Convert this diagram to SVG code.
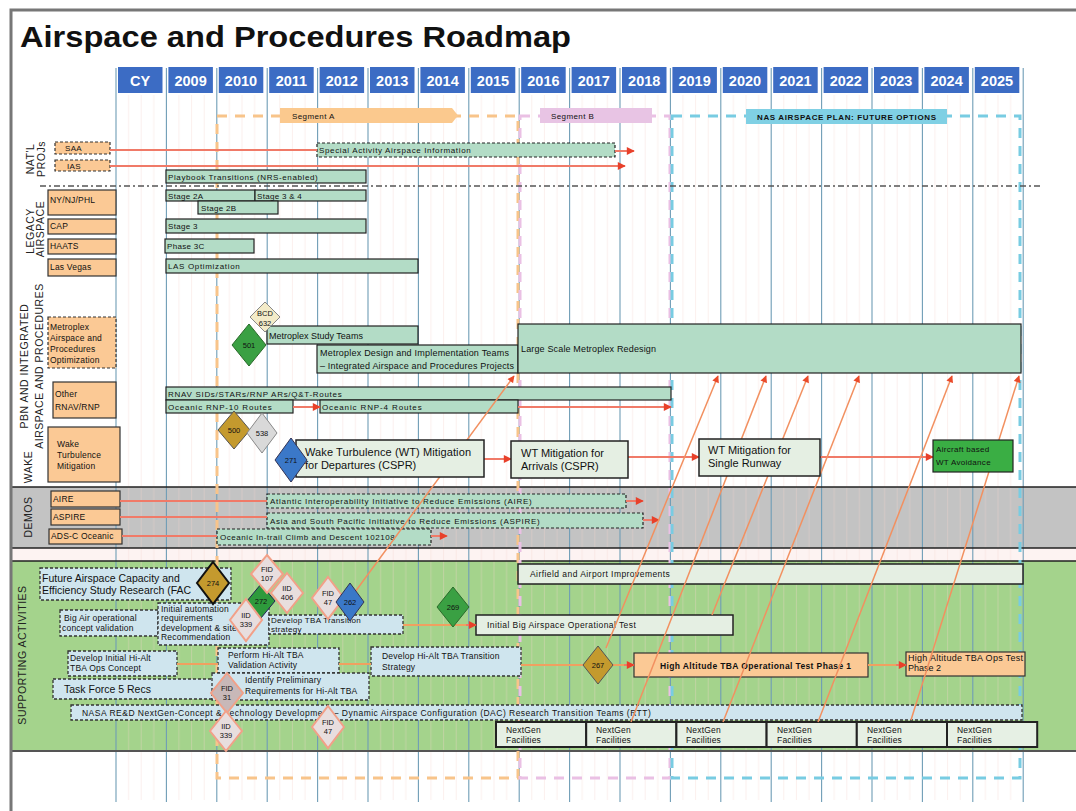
<svg xmlns="http://www.w3.org/2000/svg" width="1076" height="811" viewBox="0 0 1076 811">
<defs>
<style>
text { font-family: "Liberation Sans", Arial, sans-serif; fill:#111; }
.yr { font-size:14.5px; font-weight:bold; fill:#fff; text-anchor:middle }
.hd { fill:#3c6cc4 }
.grid { stroke:#6f9db6; stroke-width:1.1; fill:none }
.g { fill:#b3dcc6; stroke:#222; stroke-width:1.2 }
.gd { fill:#b3dcc6; stroke:#222; stroke-width:1.2; stroke-dasharray:3 2 }
.lt { fill:#e5efe3; stroke:#222; stroke-width:1.5 }
.o { fill:#fbc995; stroke:#333; stroke-width:1.2 }
.od { fill:#fbc995; stroke:#333; stroke-width:1.2; stroke-dasharray:3 2 }
.bd { fill:#cfe5ee; stroke:#333; stroke-width:1.3; stroke-dasharray:3 2 }
.ng { fill:#e6f0e4; stroke:#222; stroke-width:2 }
.s8 { font-size:8px; letter-spacing:0.3px }
.s85 { font-size:8.5px; letter-spacing:0.2px }
.s9 { font-size:9px }
.s10 { font-size:10.5px }
.s11 { font-size:11px }
.sec { font-size:10.5px; text-anchor:middle; letter-spacing:0.5px; fill:#222 }
.dt { font-size:7.5px; text-anchor:middle }
.ln { stroke:#f07a68; stroke-width:2; fill:none }
.ar { stroke:#f07a68; stroke-width:2; fill:none; marker-end:url(#ah) }
.oa { stroke:#f0a060; stroke-width:2; fill:none }
.dg { stroke:#f29060; stroke-width:1.5; fill:none; marker-end:url(#ah2) }
.fid { fill:#e8dede; stroke:#f2a088; stroke-width:2 }
.seg { fill:none; stroke-width:3; stroke-dasharray:10 8 }
</style>
<marker id="ah" viewBox="0 0 10 10" refX="9" refY="5" markerWidth="10" markerHeight="8" markerUnits="userSpaceOnUse" orient="auto"><path d="M0,0 L10,5 L0,10 z" fill="#e8402a"/></marker>
<marker id="ah2" viewBox="0 0 10 10" refX="9" refY="5" markerWidth="8" markerHeight="7" markerUnits="userSpaceOnUse" orient="auto"><path d="M0,0 L10,5 L0,10 z" fill="#ea4a2a"/></marker>
<pattern id="mo" x="116" y="0" width="50.4" height="10" patternUnits="userSpaceOnUse"><path d="M12.6,0V10M25.2,0V10M37.8,0V10" stroke="#f4d2cc" stroke-width="1"/></pattern>
</defs>

<rect x="0" y="0" width="1076" height="811" fill="#fff"/>

<!-- bands -->
<rect x="11" y="487" width="1065" height="61" fill="#c3c3c3"/>
<rect x="11" y="548" width="1065" height="13" fill="#fdf3f2"/>
<rect x="11" y="561" width="1065" height="190" fill="#a4d38c"/>
<rect x="116" y="95" width="907" height="705" fill="url(#mo)" opacity="0.35"/>
<path class="grid" d="M116,68V802M166.4,68V802M216.8,68V802M267.2,68V802M317.6,68V802M368,68V802M418.4,68V802M468.8,68V802M519.2,68V802M569.6,68V802M620,68V802M670.4,68V802M720.8,68V802M771.2,68V802M821.6,68V802M872,68V802M922.4,68V802M972.8,68V802M1023.2,68V802"/>
<path d="M11,487H1076M11,548H1076M11,561H1076" stroke="#222" stroke-width="1.3" fill="none"/>
<path d="M11,751H1076" stroke="#555" stroke-width="2" fill="none"/>

<!-- frame and title -->
<path d="M11,811V10H1076" stroke="#777" stroke-width="3" fill="none"/>
<text x="20" y="47" font-size="30" font-weight="bold" textLength="551" lengthAdjust="spacingAndGlyphs">Airspace and Procedures Roadmap</text>

<!-- header -->
<g id="header">
<rect class="hd" x="118" y="67" width="44.5" height="26"/><text class="yr" x="140.2" y="86">CY</text>
<rect class="hd" x="168.4" y="67" width="44.5" height="26"/><text class="yr" x="190.6" y="86">2009</text>
<rect class="hd" x="218.8" y="67" width="44.5" height="26"/><text class="yr" x="241" y="86">2010</text>
<rect class="hd" x="269.2" y="67" width="44.5" height="26"/><text class="yr" x="291.4" y="86">2011</text>
<rect class="hd" x="319.6" y="67" width="44.5" height="26"/><text class="yr" x="341.8" y="86">2012</text>
<rect class="hd" x="370" y="67" width="44.5" height="26"/><text class="yr" x="392.2" y="86">2013</text>
<rect class="hd" x="420.4" y="67" width="44.5" height="26"/><text class="yr" x="442.6" y="86">2014</text>
<rect class="hd" x="470.8" y="67" width="44.5" height="26"/><text class="yr" x="493" y="86">2015</text>
<rect class="hd" x="521.2" y="67" width="44.5" height="26"/><text class="yr" x="543.4" y="86">2016</text>
<rect class="hd" x="571.6" y="67" width="44.5" height="26"/><text class="yr" x="593.8" y="86">2017</text>
<rect class="hd" x="622" y="67" width="44.5" height="26"/><text class="yr" x="644.2" y="86">2018</text>
<rect class="hd" x="672.4" y="67" width="44.5" height="26"/><text class="yr" x="694.6" y="86">2019</text>
<rect class="hd" x="722.8" y="67" width="44.5" height="26"/><text class="yr" x="745" y="86">2020</text>
<rect class="hd" x="773.2" y="67" width="44.5" height="26"/><text class="yr" x="795.4" y="86">2021</text>
<rect class="hd" x="823.6" y="67" width="44.5" height="26"/><text class="yr" x="845.8" y="86">2022</text>
<rect class="hd" x="874" y="67" width="44.5" height="26"/><text class="yr" x="896.2" y="86">2023</text>
<rect class="hd" x="924.4" y="67" width="44.5" height="26"/><text class="yr" x="946.6" y="86">2024</text>
<rect class="hd" x="974.8" y="67" width="44.5" height="26"/><text class="yr" x="997" y="86">2025</text>
</g>

<!-- segments -->
<g id="segA">
<rect class="seg" x="217" y="116" width="301" height="662" stroke="#f8c48a"/>
<polygon points="280,108 452,108 458,115.5 452,123 280,123" fill="#fbc98e"/>
<text x="292" y="119" font-size="8" fill="#333" letter-spacing="0.4">Segment A</text>
</g>
<g id="segB">
<rect class="seg" x="520" y="116" width="150" height="662" stroke="#eac0e4"/>
<rect x="540" y="108" width="112" height="15" fill="#e8c4e4"/>
<text x="551" y="119" font-size="8" fill="#333" letter-spacing="0.4">Segment B</text>
</g>
<g id="segF">
<rect class="seg" x="672" y="116" width="348" height="662" stroke="#78cce2"/>
<rect x="746" y="109" width="201" height="15" fill="#80d0e4"/>
<text x="757" y="120" font-size="8" font-weight="bold" fill="#222" textLength="179" lengthAdjust="spacing">NAS AIRSPACE PLAN: FUTURE OPTIONS</text>
</g>

<path d="M40,186H1041" stroke="#555" stroke-width="1.5" stroke-dasharray="6 3 2 3" fill="none"/>

<!-- section labels -->
<g id="sections">
<text class="sec" transform="translate(34,159) rotate(-90)">NAT'L</text>
<text class="sec" transform="translate(45,159) rotate(-90)">PROJs</text>
<text class="sec" transform="translate(34,231) rotate(-90)">LEGACY</text>
<text class="sec" transform="translate(44,229) rotate(-90)">AIRSPACE</text>
<text class="sec" transform="translate(28,366) rotate(-90)">PBN AND INTEGRATED</text>
<text class="sec" transform="translate(43,366) rotate(-90)">AIRSPACE AND PROCEDURES</text>
<text class="sec" transform="translate(32,467) rotate(-90)">WAKE</text>
<text class="sec" transform="translate(32,517) rotate(-90)">DEMOS</text>
<text class="sec" transform="translate(26,655) rotate(-90)">SUPPORTING ACTIVITIES</text>
</g>

<!-- box nodes -->
<g id="n-saa"><rect class="od" x="55" y="142" width="55" height="12"/><text class="s8" x="65" y="151">SAA</text></g>
<g id="n-ias"><rect class="od" x="55" y="160" width="55" height="11"/><text class="s8" x="67" y="168.5">IAS</text></g>
<g id="n-special"><rect class="gd" x="317" y="143" width="298" height="14"/><text class="s8" x="319" y="153" textLength="152" lengthAdjust="spacing">Special Activity Airspace Information</text></g>
<g id="n-playbook"><rect class="g" x="166" y="170" width="200" height="13"/><text class="s8" x="168" y="180" textLength="150" lengthAdjust="spacing">Playbook Transitions (NRS-enabled)</text></g>

<g id="n-nynj"><rect class="o" x="48" y="190" width="68" height="25"/><text class="s85" x="50" y="203">NY/NJ/PHL</text></g>
<g id="n-stage2a"><rect class="g" x="166" y="190" width="89" height="11"/><text class="s8" x="168" y="199">Stage 2A</text></g>
<g id="n-stage34"><rect class="g" x="255" y="190" width="111" height="11"/><text class="s8" x="257" y="199">Stage 3 &amp; 4</text></g>
<g id="n-stage2b"><rect class="g" x="198" y="201" width="80" height="13"/><text class="s8" x="201" y="211">Stage 2B</text></g>
<g id="n-cap"><rect class="o" x="48" y="219" width="68" height="15"/><text class="s85" x="50" y="229">CAP</text></g>
<g id="n-stage3"><rect class="g" x="166" y="219" width="200" height="14"/><text class="s8" x="168" y="229">Stage 3</text></g>
<g id="n-haats"><rect class="o" x="48" y="239" width="68" height="15"/><text class="s85" x="50" y="249">HAATS</text></g>
<g id="n-phase3c"><rect class="g" x="165" y="239" width="89" height="14"/><text class="s8" x="167" y="249">Phase 3C</text></g>
<g id="n-lasvegas"><rect class="o" x="48" y="259" width="68" height="17"/><text class="s85" x="50" y="270">Las Vegas</text></g>
<g id="n-lasopt"><rect class="g" x="166" y="259" width="252" height="14"/><text class="s8" x="168" y="269" textLength="72" lengthAdjust="spacing">LAS Optimization</text></g>

<g id="n-metroplex"><rect class="od" x="48" y="317" width="68" height="51"/>
<text class="s85" x="50" y="330">Metroplex</text><text class="s85" x="50" y="341">Airspace and</text><text class="s85" x="50" y="352">Procedures</text><text class="s85" x="50" y="363">Optimization</text></g>
<g id="n-metstudy"><rect class="g" x="267" y="326" width="151" height="18"/><text class="s9" x="269" y="339">Metroplex Study Teams</text></g>
<g id="n-metdesign"><rect class="g" x="317" y="345" width="201" height="28"/>
<text class="s9" x="320" y="356" textLength="189" lengthAdjust="spacing">Metroplex Design and Implementation Teams</text>
<text class="s9" x="320" y="369" textLength="194" lengthAdjust="spacing">– Integrated Airspace and Procedures Projects</text></g>
<g id="n-largescale"><rect class="g" x="518" y="324" width="503" height="49"/><text class="s9" x="521" y="352" textLength="135" lengthAdjust="spacing">Large Scale Metroplex Redesign</text></g>

<g id="n-otherrnav"><rect class="o" x="53" y="382" width="63" height="36"/><text class="s85" x="55" y="397">Other</text><text class="s85" x="55" y="410">RNAV/RNP</text></g>
<g id="n-rnav"><rect class="g" x="166" y="387" width="505" height="13"/><text class="s8" x="168" y="397" textLength="174" lengthAdjust="spacing">RNAV SIDs/STARs/RNP ARs/Q&amp;T-Routes</text></g>
<g id="n-rnp10"><rect class="g" x="166" y="400" width="127" height="13"/><text class="s8" x="168" y="410" textLength="104" lengthAdjust="spacing">Oceanic RNP-10 Routes</text></g>
<g id="n-rnp4"><rect class="g" x="320" y="400" width="198" height="13"/><text class="s8" x="322" y="410" textLength="100" lengthAdjust="spacing">Oceanic RNP-4 Routes</text></g>

<g id="n-wakemit"><rect class="o" x="48" y="427" width="72" height="55"/><text class="s85" x="57" y="447">Wake</text><text class="s85" x="57" y="458">Turbulence</text><text class="s85" x="57" y="469">Mitigation</text></g>

<g id="n-aire"><rect class="o" x="51" y="491" width="69" height="16"/><text class="s85" x="53" y="502">AIRE</text></g>
<g id="n-aspire"><rect class="o" x="51" y="509" width="69" height="16"/><text class="s85" x="53" y="520">ASPIRE</text></g>
<g id="n-adsc"><rect class="o" x="49" y="529" width="73" height="15"/><text class="s85" x="51" y="539">ADS-C Oceanic</text></g>
<g id="n-aired"><rect class="gd" x="267" y="494" width="359" height="14"/><text class="s8" x="270" y="504" textLength="262" lengthAdjust="spacing">Atlantic Interoperability Initiative to Reduce Emissions (AIRE)</text></g>
<g id="n-aspired"><rect class="gd" x="267" y="513" width="376" height="15"/><text class="s8" x="270" y="523.5" textLength="270" lengthAdjust="spacing">Asia and South Pacific Initiative to Reduce Emissions (ASPIRE)</text></g>
<g id="n-itp"><rect class="gd" x="217" y="529" width="214" height="16"/><text class="s8" x="220" y="540" textLength="175" lengthAdjust="spacing">Oceanic In-trail Climb and Descent 102108</text></g>

<g id="n-airfield"><rect class="lt" x="518" y="564" width="505" height="20"/><text class="s85" x="530" y="577" textLength="140" lengthAdjust="spacing">Airfield and Airport Improvements</text></g>
<g id="n-fac"><rect class="bd" x="40" y="568" width="191" height="32"/><text class="s10" x="42" y="582">Future Airspace Capacity and</text><text class="s10" x="42" y="594">Efficiency Study Research  (FAC</text></g>
<g id="n-bigair"><rect class="bd" x="60" y="610" width="98" height="26"/><text class="s85" x="64" y="621">Big Air operational</text><text class="s85" x="62" y="631">concept validation</text></g>
<g id="n-initauto"><rect class="bd" x="158" y="603" width="111" height="42"/><text class="s85" x="161" y="612">Initial automation</text><text class="s85" x="161" y="621">requirements</text><text class="s85" x="161" y="631">development &amp; site</text><text class="s85" x="161" y="640">Recommendation</text></g>
<g id="n-devtba"><rect class="bd" x="269" y="615" width="134" height="19"/><text class="s8" x="271" y="623">Develop TBA Transition</text><text class="s8" x="271" y="632">strategy</text></g>
<g id="n-bigtest"><rect class="lt" x="476" y="615" width="257" height="20"/><text class="s85" x="487" y="628" textLength="149" lengthAdjust="spacing">Initial Big Airspace Operational Test</text></g>
<g id="n-devinit"><rect class="bd" x="68" y="651" width="109" height="25"/><text class="s85" x="70" y="661">Develop Initial Hi-Alt</text><text class="s85" x="70" y="671">TBA Ops Concept</text></g>
<g id="n-perform"><rect class="bd" x="218" y="648" width="121" height="25"/><text class="s85" x="228" y="658">Perform Hi-Alt TBA</text><text class="s85" x="228" y="668">Validation Activity</text></g>
<g id="n-devtrans"><rect class="bd" x="371" y="647" width="150" height="29"/><text class="s85" x="382" y="659">Develop Hi-Alt TBA Transition</text><text class="s85" x="382" y="670">Strategy</text></g>
<g id="n-hialt1"><rect class="o" x="634" y="653" width="234" height="24"/><text x="660" y="669" font-size="8.5" font-weight="bold" textLength="191" lengthAdjust="spacing">High Altitude TBA Operational Test Phase 1</text></g>
<g id="n-hialt2"><rect class="o" x="906" y="652" width="119" height="24"/><text class="s9" x="908" y="661" textLength="115" lengthAdjust="spacing">High Altitude TBA Ops Test</text><text class="s9" x="908" y="671">Phase 2</text></g>
<g id="n-taskforce"><rect class="bd" x="53" y="679" width="162" height="20"/><text class="s10" x="64" y="693">Task Force 5 Recs</text></g>
<g id="n-identify"><rect class="bd" x="212" y="673" width="157" height="27"/><text class="s85" x="245" y="683">Identify Preliminary</text><text class="s85" x="245" y="694">Requirements for Hi-Alt TBA</text></g>
<g id="n-nasa"><rect class="bd" x="71" y="705" width="951" height="15"/><text class="s85" x="82" y="716" textLength="569" lengthAdjust="spacing">NASA RE&amp;D NextGen-Concept &amp; Technology Development – Dynamic Airspace Configuration (DAC) Research Transition Teams (RTT)</text></g>

<g id="n-ng1"><rect class="ng" x="496" y="722" width="90.2" height="25"/><text class="s85" x="506" y="733">NextGen</text><text class="s85" x="506" y="743">Facilities</text></g>
<g id="n-ng2"><rect class="ng" x="586.2" y="722" width="90.2" height="25"/><text class="s85" x="596" y="733">NextGen</text><text class="s85" x="596" y="743">Facilities</text></g>
<g id="n-ng3"><rect class="ng" x="676.4" y="722" width="90.2" height="25"/><text class="s85" x="686" y="733">NextGen</text><text class="s85" x="686" y="743">Facilities</text></g>
<g id="n-ng4"><rect class="ng" x="766.6" y="722" width="90.2" height="25"/><text class="s85" x="777" y="733">NextGen</text><text class="s85" x="777" y="743">Facilities</text></g>
<g id="n-ng5"><rect class="ng" x="856.8" y="722" width="90.2" height="25"/><text class="s85" x="867" y="733">NextGen</text><text class="s85" x="867" y="743">Facilities</text></g>
<g id="n-ng6"><rect class="ng" x="947" y="722" width="90.2" height="25"/><text class="s85" x="957" y="733">NextGen</text><text class="s85" x="957" y="743">Facilities</text></g>

<!-- connectors -->
<g id="connectors">
<path class="ln" d="M110,150H317"/>
<path class="ar" d="M615,151H634"/>
<path class="ar" d="M110,166H625"/>
<path class="ar" d="M293,407H320"/>
<path class="ar" d="M518,407H671"/>
<path class="ar" d="M484,459H511"/>
<path class="ar" d="M628,457H699"/>
<path class="ar" d="M820,457H933"/>
<path class="ln" d="M120,501H267"/>
<path class="ln" d="M120,517H267"/>
<path class="ln" d="M122,536H217"/>
<path class="ar" d="M626,501H643"/>
<path class="ar" d="M643,520H659"/>
<path class="ar" d="M431,536H447"/>
<path class="oa" d="M403,625H470"/><path class="ar" d="M466,625H476"/>
<path class="oa" d="M177,664H218"/>
<path class="oa" d="M339,664H371"/>
<path class="oa" d="M521,665H584"/>
<path class="oa" d="M612,665H628"/><path class="ar" d="M624,665H634"/>
<path class="oa" d="M868,665H900"/><path class="ar" d="M896,665H906"/>
<path class="dg" d="M355,592L514,376"/>
<path class="dg" d="M606,648L718,376"/>
<path class="dg" d="M631,722L766,376"/>
<path class="dg" d="M712,615L808,376"/>
<path class="dg" d="M723,722L859,376"/>
<path class="dg" d="M818,722L952,376"/>
<path class="dg" d="M911,720L1019,376"/>
</g>

<!-- wake nodes (above connectors) -->
<g id="n-wtdep"><rect class="lt" x="296" y="440" width="188" height="37"/><text class="s11" x="305" y="456" textLength="166" lengthAdjust="spacing">Wake Turbulence (WT) Mitigation</text><text class="s11" x="305" y="469">for Departures (CSPR)</text></g>
<g id="n-wtarr"><rect class="lt" x="511" y="441" width="117" height="37"/><text class="s11" x="521" y="457">WT Mitigation for</text><text class="s11" x="521" y="470">Arrivals (CSPR)</text></g>
<g id="n-wtrwy"><rect class="lt" x="699" y="439" width="121" height="37"/><text class="s11" x="708" y="454">WT Mitigation for</text><text class="s11" x="708" y="467">Single Runway</text></g>
<g id="n-aircraft"><rect x="933" y="440" width="80" height="32" fill="#3aae44" stroke="#222" stroke-width="1.2"/><text class="s8" x="936" y="452">Aircraft based</text><text class="s8" x="936" y="465">WT Avoidance</text></g>

<!-- diamonds -->
<g id="d-bcd"><polygon points="265,302 280,317 265,332 250,317" fill="#f3ebc8" stroke="#888" stroke-width="1"/><text class="dt" x="265" y="316">BCD</text><text class="dt" x="265" y="326">632</text></g>
<g id="d-501"><polygon points="249,324 266,345 249,366 232,345" fill="#3aa043" stroke="#2a6a2a" stroke-width="1"/><text class="dt" x="249" y="348">501</text></g>
<g id="d-500"><polygon points="234,411 250,430 234,449 218,430" fill="#c49a2e" stroke="#555" stroke-width="1"/><text class="dt" x="234" y="433">500</text></g>
<g id="d-538"><polygon points="262,413 277,433 262,453 247,433" fill="#d9d9d9" stroke="#888" stroke-width="1"/><text class="dt" x="262" y="436">538</text></g>
<g id="d-271"><polygon points="291,438 307,460 291,482 275,460" fill="#3b78c8" stroke="#335" stroke-width="1"/><text class="dt" x="291" y="463">271</text></g>
<g id="d-272"><polygon points="261,584 275,601 261,618 247,601" fill="#2e9a3c" stroke="#225" stroke-width="1"/><text class="dt" x="261" y="604">272</text></g>
<g id="d-fid107"><polygon class="fid" points="267,555 283,574 267,593 251,574"/><text class="dt" x="267" y="572">FID</text><text class="dt" x="267" y="581">107</text></g>
<g id="d-iid406"><polygon class="fid" points="287,573 303,593 287,613 271,593"/><text class="dt" x="287" y="591">IID</text><text class="dt" x="287" y="600">406</text></g>
<g id="d-274"><polygon points="213,562 229,583 213,604 197,583" fill="#c49a2e" stroke="#111" stroke-width="2"/><text class="dt" x="213" y="586">274</text></g>
<g id="d-fid47a"><polygon class="fid" points="328,577 344,598 328,619 312,598"/><text class="dt" x="328" y="596">FID</text><text class="dt" x="328" y="605">47</text></g>
<g id="d-262"><polygon points="350,583 364,602 350,621 336,602" fill="#3a78c8" stroke="#335" stroke-width="1"/><text class="dt" x="350" y="605">262</text></g>
<g id="d-269"><polygon points="453,587 469,607 453,627 437,607" fill="#3aa043" stroke="#2a6a2a" stroke-width="1"/><text class="dt" x="453" y="610">269</text></g>
<g id="d-iid339a"><polygon class="fid" points="246,599 262,620 246,641 230,620"/><text class="dt" x="246" y="618">IID</text><text class="dt" x="246" y="627">339</text></g>
<g id="d-267"><polygon points="598,646 613,665 598,684 583,665" fill="#c49a2e" stroke="#555" stroke-width="1"/><text class="dt" x="598" y="668">267</text></g>
<g id="d-fid31"><polygon points="227,673 243,693 227,713 211,693" fill="#c8b8b8" stroke="#f2a088" stroke-width="2"/><text class="dt" x="227" y="691">FID</text><text class="dt" x="227" y="700">31</text></g>
<g id="d-iid339b"><polygon class="fid" points="226,711 242,731 226,751 210,731"/><text class="dt" x="226" y="729">IID</text><text class="dt" x="226" y="738">339</text></g>
<g id="d-fid47b"><polygon class="fid" points="328,706 344,727 328,748 312,727"/><text class="dt" x="328" y="725">FID</text><text class="dt" x="328" y="734">47</text></g>
</svg>
